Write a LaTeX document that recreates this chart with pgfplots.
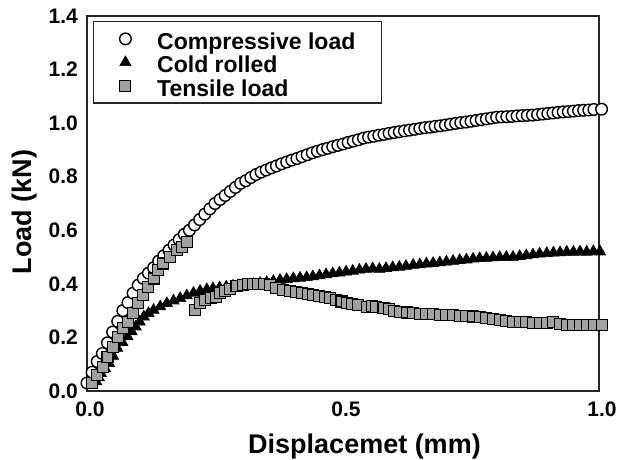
\documentclass[border=0pt]{standalone}
\usepackage{fontspec}
\setmainfont{Liberation Sans}
\usepackage{pgfplots}
\pgfplotsset{compat=1.18}
\begin{document}
\begin{tikzpicture}
\begin{axis}[
  name=ax,
  scale only axis, width=512pt, height=375pt,
  xmin=0, xmax=1, ymin=0, ymax=1.4,
  xtick={0,0.5,1}, ytick={0,0.2,0.4,0.6,0.8,1.0,1.2,1.4},
  major tick length=0pt,
  axis line style={line width=1.3pt, draw=black!85},
  clip=false,
  /pgf/number format/.cd, fixed, fixed zerofill, precision=1, assume math mode=true,
  /pgfplots/.cd,
  tick label style={font=\fontsize{21}{21}\selectfont\bfseries, inner sep=0pt},
  yticklabel style={xshift=-9pt},
  xticklabel style={yshift=-11pt, xshift=3pt},
  xlabel={Displacemet (mm)}, ylabel={Load (kN)},
  label style={font=\fontsize{27}{27}\selectfont\bfseries, inner sep=0pt},
  xlabel style={at={(axis description cs:0.542,0)}, anchor=base, yshift=-62pt},
  ylabel style={at={(axis description cs:0,0.477)}, anchor=base, yshift=55pt},
  legend cell align=left,
  legend style={at={(axis description cs:0,1)}, anchor=north west, xshift=6pt, yshift=-5pt,
    draw=black!85, line width=1.3pt, inner xsep=26pt, inner ysep=5.5pt,
    font=\fontsize{23}{23}\selectfont\bfseries, column sep=26pt, row sep=0pt,
    nodes={inner sep=0pt, text height=22pt, text depth=1.5pt}},
]
\addplot[only marks, mark=*, mark size=5.8pt, mark options={fill=white, draw=black, line width=1.4pt}] table {
0.000 0.030
0.010 0.070
0.020 0.110
0.030 0.140
0.040 0.180
0.050 0.220
0.060 0.260
0.070 0.300
0.080 0.330
0.090 0.365
0.100 0.395
0.110 0.420
0.120 0.440
0.130 0.460
0.140 0.485
0.150 0.505
0.160 0.525
0.170 0.545
0.180 0.565
0.190 0.585
0.200 0.600
0.210 0.620
0.220 0.640
0.230 0.660
0.240 0.680
0.250 0.700
0.260 0.715
0.270 0.730
0.280 0.745
0.290 0.760
0.300 0.775
0.310 0.785
0.320 0.797
0.330 0.808
0.340 0.817
0.350 0.825
0.360 0.833
0.370 0.840
0.380 0.848
0.390 0.855
0.400 0.862
0.410 0.868
0.420 0.875
0.430 0.882
0.440 0.889
0.450 0.895
0.460 0.901
0.470 0.906
0.480 0.912
0.490 0.917
0.500 0.922
0.510 0.928
0.520 0.933
0.530 0.938
0.540 0.944
0.550 0.948
0.560 0.951
0.570 0.955
0.580 0.958
0.590 0.962
0.600 0.965
0.610 0.968
0.620 0.971
0.630 0.974
0.640 0.977
0.650 0.980
0.660 0.983
0.670 0.985
0.680 0.988
0.690 0.990
0.700 0.993
0.710 0.996
0.720 0.999
0.730 1.002
0.740 1.004
0.750 1.007
0.760 1.010
0.770 1.013
0.780 1.016
0.790 1.019
0.800 1.022
0.810 1.023
0.820 1.024
0.830 1.025
0.840 1.027
0.850 1.028
0.860 1.029
0.870 1.030
0.880 1.032
0.890 1.034
0.900 1.036
0.910 1.038
0.920 1.040
0.930 1.042
0.940 1.043
0.950 1.045
0.960 1.047
0.970 1.048
0.980 1.049
0.990 1.051
1.005 1.052
};
\addlegendentry{Compressive load}
\addplot[only marks, mark=triangle*, mark size=6.5pt, mark options={fill=black, draw=black, line width=0.6pt}] table {
0.018 0.035
0.023 0.050
0.027 0.066
0.035 0.085
0.043 0.103
0.051 0.130
0.059 0.160
0.069 0.182
0.079 0.203
0.087 0.222
0.095 0.240
0.103 0.258
0.111 0.277
0.120 0.290
0.130 0.302
0.143 0.315
0.156 0.327
0.169 0.337
0.182 0.346
0.195 0.356
0.208 0.366
0.221 0.373
0.234 0.379
0.246 0.383
0.259 0.386
0.272 0.389
0.285 0.392
0.298 0.393
0.312 0.395
0.325 0.399
0.338 0.403
0.351 0.406
0.364 0.410
0.377 0.414
0.390 0.417
0.403 0.420
0.416 0.422
0.429 0.424
0.441 0.427
0.454 0.431
0.467 0.435
0.480 0.438
0.493 0.441
0.506 0.445
0.519 0.448
0.532 0.452
0.545 0.455
0.558 0.457
0.571 0.455
0.584 0.458
0.597 0.461
0.610 0.463
0.623 0.466
0.637 0.470
0.650 0.472
0.663 0.475
0.676 0.477
0.689 0.479
0.702 0.482
0.715 0.485
0.728 0.488
0.741 0.490
0.754 0.493
0.767 0.495
0.780 0.496
0.793 0.498
0.806 0.499
0.819 0.500
0.832 0.500
0.845 0.503
0.858 0.506
0.871 0.509
0.884 0.512
0.898 0.514
0.911 0.516
0.924 0.517
0.937 0.519
0.950 0.519
0.963 0.520
0.976 0.519
0.989 0.521
1.002 0.520
};
\addlegendentry{Cold rolled}
\addplot[only marks, mark=square*, mark size=5.5pt, mark options={fill=black!37, draw=black, line width=1.1pt}] table {
0.009 0.031
0.020 0.060
0.031 0.090
0.040 0.128
0.051 0.165
0.061 0.203
0.071 0.234
0.080 0.259
0.089 0.290
0.100 0.327
0.110 0.358
0.120 0.389
0.130 0.420
0.139 0.452
0.149 0.476
0.162 0.500
0.175 0.526
0.185 0.538
0.195 0.557
0.211 0.302
0.221 0.330
0.230 0.340
0.243 0.346
0.252 0.352
0.260 0.366
0.270 0.372
0.280 0.380
0.292 0.392
0.304 0.395
0.315 0.398
0.325 0.400
0.334 0.400
0.345 0.398
0.357 0.395
0.370 0.386
0.383 0.378
0.396 0.374
0.409 0.370
0.420 0.365
0.431 0.361
0.442 0.358
0.453 0.354
0.464 0.350
0.475 0.346
0.486 0.340
0.497 0.334
0.507 0.328
0.518 0.324
0.530 0.320
0.546 0.315
0.556 0.316
0.565 0.314
0.579 0.309
0.590 0.305
0.600 0.300
0.612 0.296
0.625 0.293
0.637 0.290
0.650 0.289
0.662 0.287
0.676 0.286
0.690 0.285
0.702 0.284
0.715 0.283
0.728 0.281
0.741 0.280
0.754 0.278
0.767 0.277
0.780 0.273
0.793 0.270
0.806 0.266
0.819 0.262
0.832 0.259
0.845 0.258
0.858 0.257
0.871 0.255
0.884 0.254
0.898 0.253
0.911 0.257
0.924 0.250
0.937 0.248
0.950 0.247
0.963 0.246
0.976 0.247
0.990 0.246
1.005 0.246
};
\addlegendentry{Tensile load}
\end{axis}
\path (ax.south west) ++(-87pt,-69pt) rectangle ([xshift=19pt,yshift=16pt]ax.north east);
\end{tikzpicture}
\end{document}
